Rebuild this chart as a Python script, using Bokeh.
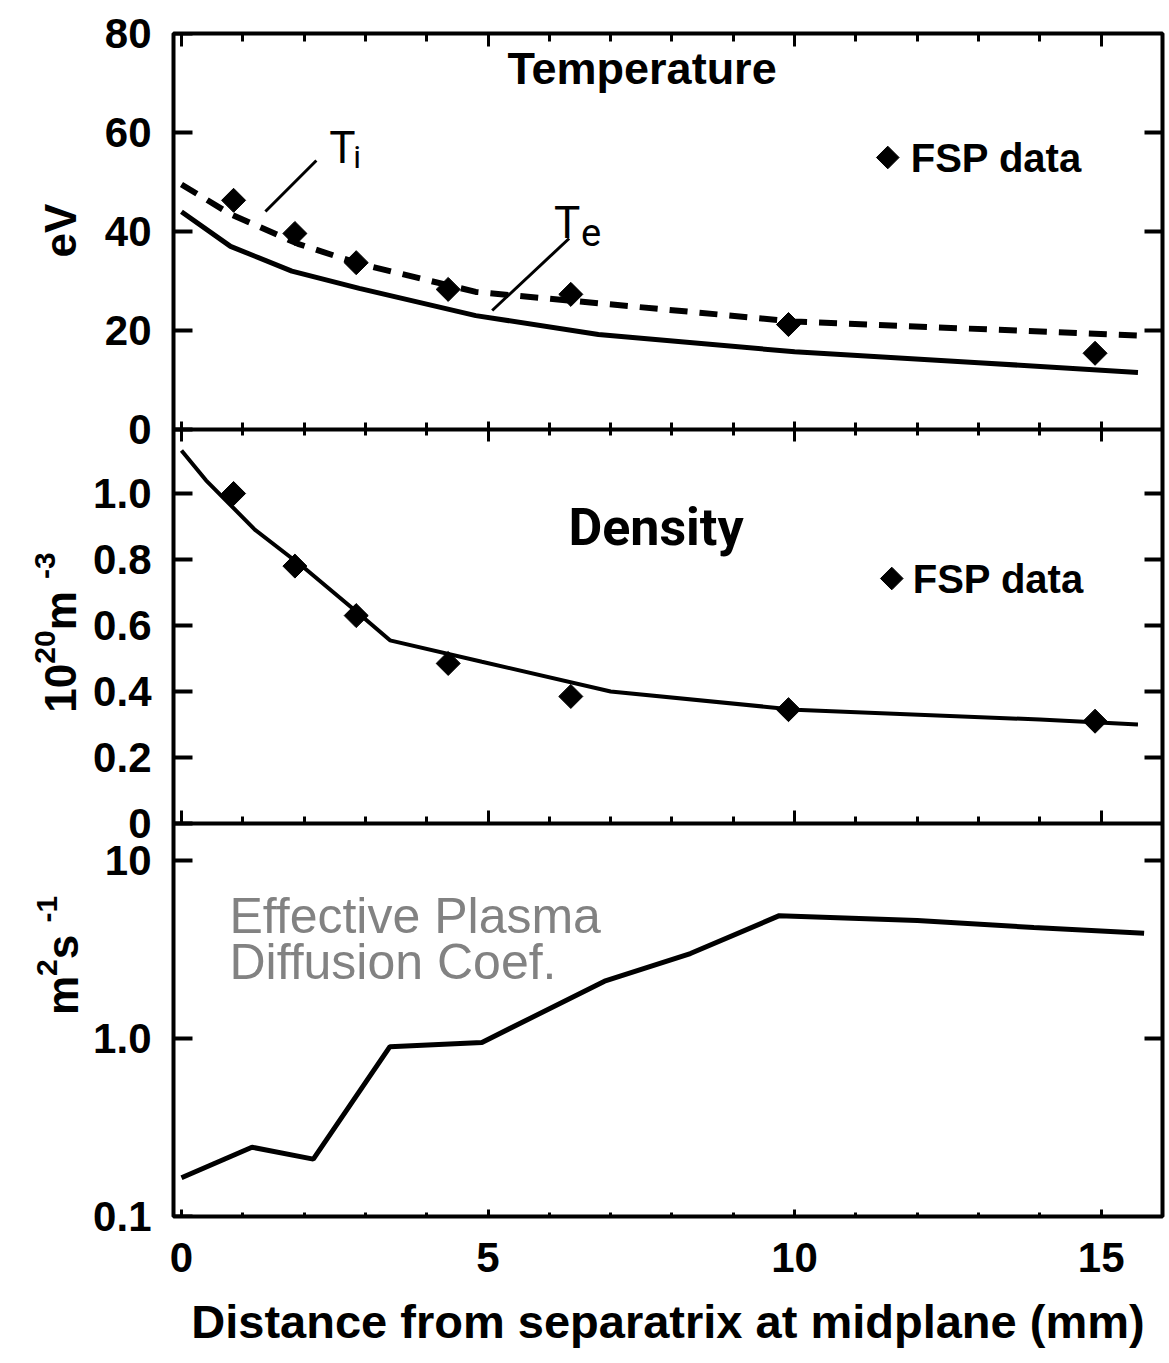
import math
from bokeh.plotting import figure
from bokeh.layouts import row
from bokeh.models import (Range1d, LinearAxis, LogAxis, LogScale, FixedTicker,
                          CustomJSTickFormatter, Label)
from bokeh.core.properties import value
from bokeh.embed import file_html
from bokeh.resources import INLINE

# ---------------- data ----------------
te_x = [0.0, 0.8, 1.8, 2.9, 4.8, 6.8, 10.0, 13.0, 15.6]
te_y = [44.0, 37.0, 32.0, 28.5, 23.0, 19.2, 15.7, 13.5, 11.5]
ti_x = [0.0, 0.8, 1.9, 2.9, 4.8, 6.8, 10.0, 15.6]
ti_y = [49.5, 43.5, 37.5, 33.5, 27.8, 25.5, 21.8, 19.0]
fsp_x = [0.85, 1.85, 2.85, 4.35, 6.35, 9.9, 14.9]
fsp_temp = [46.3, 39.6, 33.7, 28.3, 27.3, 21.2, 15.4]
fsp_dens = [1.0, 0.78, 0.63, 0.485, 0.385, 0.345, 0.31]
dens_x = [0.0, 0.4, 1.2, 2.0, 2.9, 3.4, 4.9, 7.0, 10.0, 14.0, 15.6]
dens_y = [1.13, 1.04, 0.89, 0.775, 0.635, 0.555, 0.49, 0.40, 0.345, 0.315, 0.30]
diff_x = [0.0, 1.15, 2.15, 3.4, 4.9, 6.9, 8.3, 9.75, 12.0, 13.9, 15.7]
diff_y = [0.165, 0.245, 0.21, 0.9, 0.95, 2.1, 3.0, 4.9, 4.6, 4.2, 3.9]

x_ticks = [0, 5, 10, 15]
x_labels = ["0", "5", "10", "15"]
x_minor = list(range(0, 17))
t_ticks = [0, 20, 40, 60, 80]
t_labels = ["0", "20", "40", "60", "80"]
d_ticks = [0, 0.2, 0.4, 0.6, 0.8, 1.0]
d_labels = ["0", "0.2", "0.4", "0.6", "0.8", "1.0"]
l_ticks = [0.1, 1.0, 10.0]
l_labels = ["0.1", "1.0", "10"]

# ---------------- layout constants (pixels) ----------------
W, H = 1169, 1363
LEFT_W = 90                       # width of the strip holding the y titles
FL, FR, FT, FB = 172, 1162, 33, 1216
X_START, X_END = -0.13, 16.0
T_ZERO_PX = 429
D_ZERO_PX, D_ONE_PX = 823, 493
L_TEN_PX = 860

xppu = (FR - FL) / (X_END - X_START)
t_ppu = (T_ZERO_PX - FT) / 80.0
d_ppu = D_ZERO_PX - D_ONE_PX
decade = (FB - L_TEN_PX) / 2.0

def lin_range(zero_px, ppu, top_px, bot_px):
    return Range1d((zero_px - bot_px) / ppu, (zero_px - top_px) / ppu)

def log_range(top_px, bot_px):
    return Range1d(10 ** (-1 - (bot_px - FB) / decade), 10 ** (-1 + (FB - top_px) / decade))

def px_x(px):
    return X_START + (px - FL) / xppu

def px_t(py):
    return (T_ZERO_PX - py) / t_ppu

def px_d(py):
    return (D_ZERO_PX - py) / d_ppu

def px_l(py):
    return 10 ** (-1 + (FB - py) / decade)

FONT = "Liberation Sans"
COND = "Roboto"

def fmt(ticks, labels):
    return CustomJSTickFormatter(args=dict(tvals=ticks, tlabs=labels), code="""
        for (let i = 0; i < tvals.length; i++) {
            if (Math.abs(tvals[i] - tick) <= 1e-6 * Math.max(1, Math.abs(tick))) { return tlabs[i]; }
        }
        return " ";
    """)

# =============== main plotting figure ===============
p = figure(width=W - LEFT_W, height=H, x_range=Range1d(X_START, X_END),
           y_range=lin_range(T_ZERO_PX, t_ppu, FT, FB),
           output_backend="svg", toolbar_location=None,
           x_axis_location=None, y_axis_location=None,
           min_border_left=FL - LEFT_W, min_border_right=W - FR,
           min_border_top=FT, min_border_bottom=H - FB)
# "pix" range: canvas rows (negated) – used to place all left tick labels on one axis
p.extra_y_ranges = {"dens": lin_range(D_ZERO_PX, d_ppu, FT, FB), "diff": log_range(FT, FB),
                    "pix": Range1d(-FB - 0.5, -FT + 0.5)}
p.extra_y_scales = {"diff": LogScale()}
p.grid.visible = False
p.outline_line_color = "black"
p.outline_line_width = 4
p.background_fill_color = "white"
p.border_fill_color = "white"

# left tick labels of the three panels, on one axis (positions via each panel's scale)
lab_pos = ([-(T_ZERO_PX - t * t_ppu) for t in t_ticks] +
           [-(D_ZERO_PX - d * d_ppu) for d in d_ticks] +
           [-(FB - (math.log10(v) + 1) * decade) for v in l_ticks])
lab_txt = t_labels + d_labels + l_labels
ya = LinearAxis(y_range_name="pix", ticker=FixedTicker(ticks=lab_pos),
                formatter=fmt(lab_pos, lab_txt))
ya.axis_line_color = None
ya.major_tick_in = 0
ya.major_tick_out = 0
ya.minor_tick_in = 0
ya.minor_tick_out = 0
ya.major_tick_line_color = None
ya.major_label_standoff = 22
ya.major_label_text_font = FONT
ya.major_label_text_font_style = "bold"
ya.major_label_text_font_size = "42px"
ya.major_label_text_color = "black"
p.add_layout(ya, "left")

# y tick marks (left & right)
def tick_axis(cls, side, rname, ticks, loc):
    ax = cls(y_range_name=rname, fixed_location=loc, ticker=FixedTicker(ticks=ticks))
    ax.axis_line_color = None
    ax.major_tick_in = 19 if side == "left" else 18
    ax.major_tick_out = 0
    ax.minor_tick_in = 0
    ax.minor_tick_out = 0
    ax.major_tick_line_width = 4
    ax.major_label_text_color = None
    p.add_layout(ax, side)

tick_axis(LinearAxis, "left", "default", t_ticks, X_START)
tick_axis(LinearAxis, "left", "dens", d_ticks, X_START)
tick_axis(LogAxis, "left", "diff", l_ticks, X_START)
tick_axis(LinearAxis, "right", "default", [20, 40, 60], X_END)
tick_axis(LinearAxis, "right", "dens", [0.2, 0.4, 0.6, 0.8, 1.0], X_END)
tick_axis(LogAxis, "right", "diff", [1.0, 10.0], X_END)

# x axes: top and the two panel boundaries (tick marks only)
def x_axis(side, rname, loc, mj_in, mj_out, mn_in, mn_out, line=True):
    ax = LinearAxis(y_range_name=rname, fixed_location=loc,
                    ticker=FixedTicker(ticks=x_ticks, minor_ticks=x_minor))
    ax.axis_line_color = "black" if line else None
    ax.axis_line_width = 4
    ax.major_tick_in = mj_in
    ax.major_tick_out = mj_out
    ax.minor_tick_in = mn_in
    ax.minor_tick_out = mn_out
    ax.major_tick_line_width = 3
    ax.minor_tick_line_width = 3
    ax.major_label_text_color = None
    p.add_layout(ax, side)

x_axis("above", "default", 80, 13, 0, 8, 0, line=False)
x_axis("below", "default", 0, 8, 12, 7, 6)
x_axis("below", "dens", 0, 13, 0, 7, 0)

# bottom x axis with labels
xb = LinearAxis(y_range_name="diff",
                ticker=FixedTicker(ticks=x_ticks, minor_ticks=x_minor),
                formatter=fmt(x_ticks, x_labels))
xb.axis_line_color = None
xb.major_tick_in = 7
xb.major_tick_out = 0
xb.minor_tick_in = 4
xb.minor_tick_out = 0
xb.major_tick_line_width = 3
xb.minor_tick_line_width = 3
xb.major_label_standoff = 26
xb.major_label_text_font = FONT
xb.major_label_text_font_style = "bold"
xb.major_label_text_font_size = "42px"
xb.major_label_text_color = "black"
xb.axis_label = "Distance from separatrix at midplane (mm)"
xb.axis_label_text_font = FONT
xb.axis_label_text_font_style = "bold"
xb.axis_label_text_font_size = "47px"
xb.axis_label_text_color = "black"
xb.axis_label_standoff = 20
p.add_layout(xb, "below")

# data glyphs
p.line(te_x, te_y, line_color="black", line_width=5)
p.line(ti_x, ti_y, line_color="black", line_width=6, line_dash="18 12")
p.scatter(fsp_x, fsp_temp, marker="square", angle=math.pi / 4, size=17,
          fill_color="black", line_color="black")

p.line(dens_x, dens_y, line_color="black", line_width=4, y_range_name="dens")
p.scatter(fsp_x, fsp_dens, marker="square", angle=math.pi / 4, size=17,
          fill_color="black", line_color="black", y_range_name="dens")

p.line(diff_x, diff_y, line_color="black", line_width=5, y_range_name="diff")

# annotations inside the frame
def label(text, px, py, conv, rname, size, style="bold", font=FONT, align="left",
          baseline="alphabetic", color="black"):
    p.add_layout(Label(x=px_x(px), y=conv(py), y_range_name=rname, text=text,
                       text_font=font, text_font_size=size, text_font_style=style,
                       text_align=align, text_baseline=baseline, text_color=color))

label("Temperature", 641, 68, px_t, "default", "45px", align="center", baseline="middle")
label("Density", 655, 527, px_d, "dens", "52px", font=COND, align="center", baseline="middle")

KEY_T = (887, 157)
KEY_D = (891, 578)
p.scatter([px_x(KEY_T[0])], [px_t(KEY_T[1])], marker="square", angle=math.pi / 4, size=16,
          fill_color="black", line_color="black")
p.scatter([px_x(KEY_D[0])], [px_d(KEY_D[1])], marker="square", angle=math.pi / 4, size=16,
          fill_color="black", line_color="black", y_range_name="dens")
label("FSP data", 910, 157, px_t, "default", "40px", baseline="middle")
label("FSP data", 912, 578, px_d, "dens", "40px", baseline="middle")

label("T", 328, 147, px_t, "default", "44px", style="normal", font=COND)
label("i", 352, 156, px_t, "default", "32px", style="normal", font=COND)
label("T", 553, 222, px_t, "default", "44px", style="normal", font=COND)
label("e", 580, 231, px_t, "default", "38px", style="normal", font=COND)

PTR_I = (315, 160, 264, 211)
PTR_E = (568, 238, 491, 310)
for a in (PTR_I, PTR_E):
    p.segment(x0=[px_x(a[0])], y0=[px_t(a[1])], x1=[px_x(a[2])], y1=[px_t(a[3])],
              line_color="black", line_width=3)

label("Effective Plasma", 228, 915, px_l, "diff", "50px", style="normal", color="#828282")
label("Diffusion Coef.", 228, 961, px_l, "diff", "50px", style="normal", color="#828282")

# =============== left strip: rotated y titles ===============
q = figure(width=LEFT_W, height=H, x_range=Range1d(0, LEFT_W),
           y_range=lin_range(T_ZERO_PX, t_ppu, FT, FB),
           output_backend="svg", toolbar_location=None,
           x_axis_location=None, y_axis_location=None,
           min_border=0, min_border_left=0, min_border_right=0,
           min_border_top=FT, min_border_bottom=H - FB)
q.extra_y_ranges = {"dens": lin_range(D_ZERO_PX, d_ppu, FT, FB), "diff": log_range(FT, FB)}
q.extra_y_scales = {"diff": LogScale()}
q.grid.visible = False
q.outline_line_color = None
q.background_fill_color = "white"
q.border_fill_color = "white"

def qtext(text, px, py, conv, rname, size, align="left"):
    q.text(x=[px], y=[conv(py)], text=[text], y_range_name=rname, angle=math.pi / 2,
           text_align=align, text_baseline="middle", text_font=value(FONT),
           text_font_style="bold", text_font_size=size, text_color="black")

qtext("eV", 60, 230, px_t, "default", "44px", align="center")

def rotated_title(pieces, center_py, main_px, sup_px, conv, rname):
    sizes = {False: 44, True: 30}
    total = sum(adv * sizes[sup] for _, sup, adv in pieces)
    y = center_py + total / 2
    for text, sup, adv in pieces:
        qtext(text, sup_px if sup else main_px, y, conv, rname, "%dpx" % sizes[sup])
        y -= adv * sizes[sup]

rotated_title([("10", False, 1.112), ("20", True, 1.112), (" m", False, 1.167), ("-3", True, 0.889)],
              632, 60, 44, px_d, "dens")
rotated_title([("m", False, 0.889), ("2", True, 0.556), (" s", False, 0.834), ("-1", True, 0.889)],
              955, 62, 46, px_l, "diff")

layout = row(q, p)
open("out.html", "w").write(file_html(layout, INLINE))
